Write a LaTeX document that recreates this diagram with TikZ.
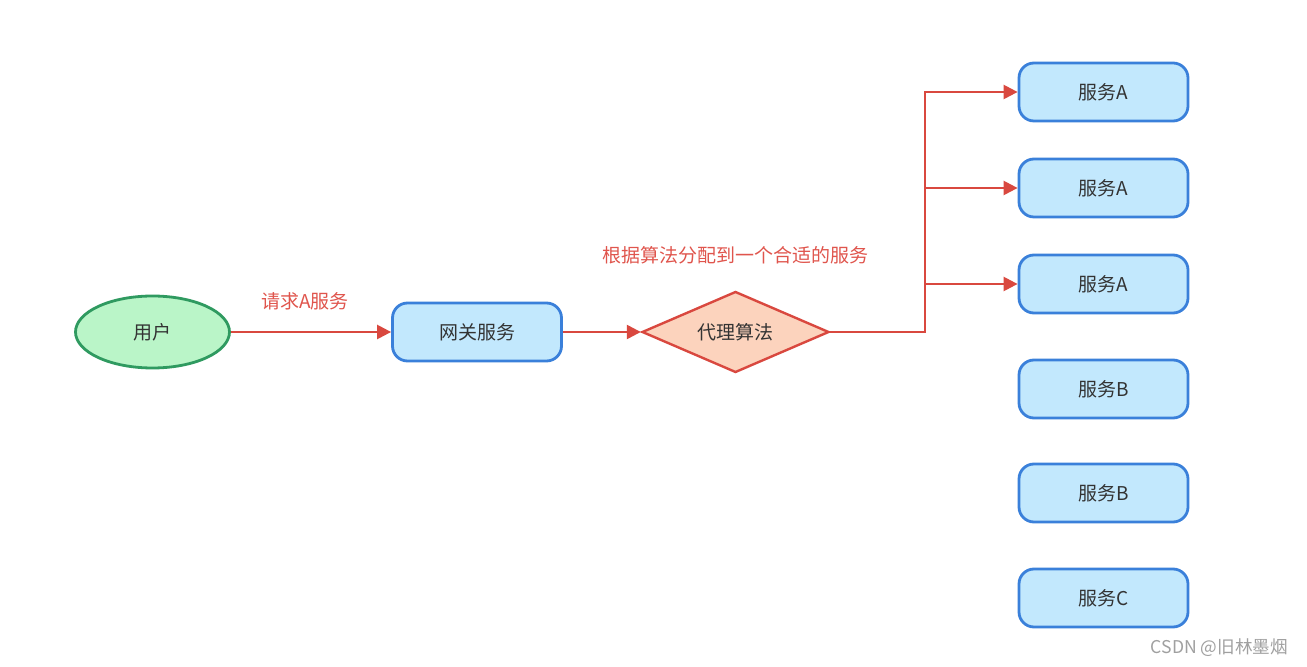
\documentclass[tikz,border=0pt]{standalone}
\usepackage{fontspec}
\setmainfont{Noto Sans CJK SC}
\usetikzlibrary{arrows.meta,shapes.geometric}
\definecolor{txt}{HTML}{333333}
\definecolor{redc}{HTML}{D9483F}
\definecolor{redt}{HTML}{E0554D}
\definecolor{bluef}{HTML}{C2E8FD}
\definecolor{blued}{HTML}{3A80DA}
\definecolor{greenf}{HTML}{BAF5C8}
\definecolor{greend}{HTML}{2F9A60}
\definecolor{oranf}{HTML}{FCD3BD}
\definecolor{wm}{HTML}{A0A0A0}
\tikzset{
  svc/.style={rectangle, rounded corners=7.5pt, draw=blued, fill=bluef, line width=1.4pt,
    minimum width=84.5pt, minimum height=29pt, text=txt, font=\fontsize{9.5pt}{11pt}\selectfont},
  usr/.style={ellipse, draw=greend, fill=greenf, line width=1.4pt,
    minimum width=77pt, minimum height=36pt, text=txt, font=\fontsize{9.5pt}{11pt}\selectfont, inner sep=0pt},
  dia/.style={diamond, aspect=2.3, draw=redc, fill=oranf, line width=1.2pt,
    minimum width=93.5pt, minimum height=40.5pt, text=txt, font=\fontsize{9.5pt}{11pt}\selectfont, inner sep=0pt},
  conn/.style={draw=redc, line width=1.2pt},
  arr/.style={conn, -{Triangle[length=7pt,width=7pt]}},
  lbl/.style={text=redt, font=\fontsize{9.5pt}{11pt}\selectfont}
}
\begin{document}
\begin{tikzpicture}[x=0.5pt,y=-0.5pt]
\useasboundingbox[fill=white] (0,0) rectangle (1307,667);
\node[usr] (user) at (152.5,332) {用户};
\node[svc] (gw) at (477,332) {网关服务};
\node[dia] (alg) at (735.5,332) {代理算法};
\node[svc] (a1) at (1103.5,92) {服务A};
\node[svc] (a2) at (1103.5,188) {服务A};
\node[svc] (a3) at (1103.5,284) {服务A};
\node[svc] (b1) at (1103.5,389) {服务B};
\node[svc] (b2) at (1103.5,493) {服务B};
\node[svc] (c1) at (1103.5,598) {服务C};
\coordinate (j) at (925,332);
\node[lbl] (l1) at (305,301) {请求A服务};
\node[lbl] (l2) at (735,255) {根据算法分配到一个合适的服务};
\node[text=wm, font=\fontsize{8.8pt}{10pt}\selectfont, anchor=east] (wmk) at (1295,648) {CSDN @旧林墨烟};
\draw[arr] (user.east) -- (gw.west);
\draw[arr] (gw.east) -- (alg.west);
\draw[arr] (alg.east) -- (j) |- (a1.west);
\draw[arr] (j) |- (a2.west);
\draw[arr] (j) |- (a3.west);
\end{tikzpicture}
\end{document}
